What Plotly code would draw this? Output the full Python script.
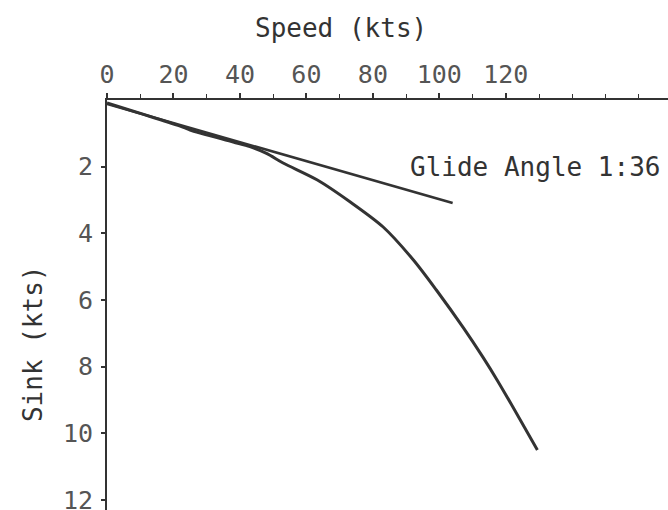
import plotly.graph_objects as go

# Polar curve (speed kts vs sink kts)
speed = [0, 23, 25, 38, 43, 48, 53, 63.3, 73.2, 83.1, 92.2, 99.1, 107.2, 113.2, 117.5, 122.3, 129.5]
sink = [0.09, 0.82, 0.90, 1.26, 1.40, 1.60, 1.89, 2.40, 3.06, 3.81, 4.80, 5.70, 6.83, 7.73, 8.42, 9.24, 10.5]

# Glide angle tangent line
glide_speed = [0, 104]
glide_sink = [0.12, 3.09]

x_tick_vals = [0, 20, 40, 60, 80, 100, 120]
x_tick_text = ["0", "20", "40", "60", "80", "100", "120"]
y_tick_vals = [2, 4, 6, 8, 10, 12]
y_tick_text = ["2", "4", "6", "8", "10", "12"]

ink = "#333333"
mono = "DejaVu Sans Mono"

fig = go.Figure()
fig.add_trace(go.Scatter(x=speed, y=sink, mode="lines",
                         line=dict(color=ink, width=3, shape="spline", smoothing=0.8),
                         showlegend=False, hoverinfo="skip"))
fig.add_trace(go.Scatter(x=glide_speed, y=glide_sink, mode="lines",
                         line=dict(color=ink, width=2.5),
                         showlegend=False, hoverinfo="skip"))

fig.update_layout(
    width=668, height=510,
    margin=dict(l=107, r=0, t=100, b=0, autoexpand=False),
    paper_bgcolor="white", plot_bgcolor="white",
    font=dict(family=mono, color="#444444"),
    xaxis=dict(side="top", range=[0, 168.8], tickvals=x_tick_vals, ticktext=x_tick_text,
               automargin=False,
               showgrid=False, zeroline=False, showline=True, linecolor=ink, linewidth=2,
               ticks="outside", ticklen=5, tickwidth=1.5, tickcolor=ink,
               tickfont=dict(family=mono, size=25, color="#555555"),
               minor=dict(dtick=10, ticks="outside", ticklen=4, tickwidth=1.2, tickcolor=ink, showgrid=False)),
    yaxis=dict(range=[12.3, 0], tickvals=y_tick_vals, ticktext=y_tick_text,
               automargin=False,
               showgrid=False, zeroline=False, showline=True, linecolor=ink, linewidth=2,
               ticks="outside", ticklen=4, tickwidth=1.5, tickcolor=ink,
               ticklabelstandoff=3, ticklabeloverflow="allow",
               tickfont=dict(family=mono, size=25, color="#555555")),
    annotations=[
        dict(text="Speed (kts)", xref="paper", yref="paper", x=0.418, y=1.175,
             xanchor="center", yanchor="middle", showarrow=False,
             font=dict(family=mono, size=26, color=ink)),
        dict(text="Sink (kts)", xref="paper", yref="paper", x=-0.132, y=0.407,
             xanchor="center", yanchor="middle", showarrow=False, textangle=-90,
             font=dict(family=mono, size=26, color=ink)),
        dict(text="Glide Angle 1:36", xref="x", yref="y", x=128.8, y=2.0,
             xanchor="center", yanchor="middle", showarrow=False,
             font=dict(family=mono, size=26, color=ink)),
    ],
)

fig.write_html("out.html", config={"displayModeBar": False},
               post_script="document.body.style.margin='0px';")
